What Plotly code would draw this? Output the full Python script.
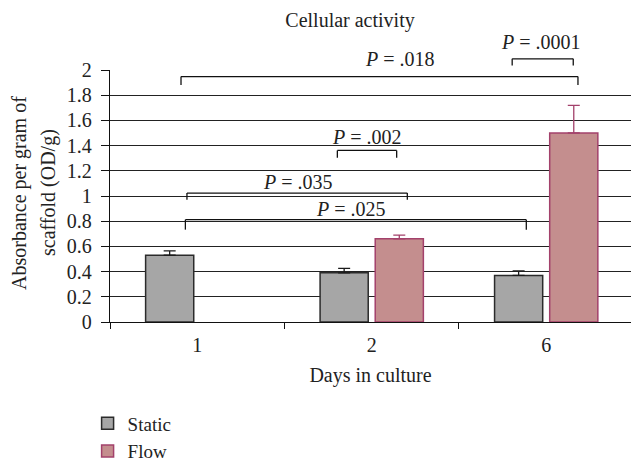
import plotly.graph_objects as go

# Absorbance per gram of scaffold by day in culture
days = ["1", "2", "6"]
static_mean = [0.53, 0.39, 0.37]
static_err = [0.035, 0.035, 0.035]
flow_mean = [None, 0.66, 1.50]
flow_err = [0, 0.03, 0.22]

y_ticks = [0, 0.2, 0.4, 0.6, 0.8, 1, 1.2, 1.4, 1.6, 1.8, 2]
y_labels = ["0", "0.2", "0.4", "0.6", "0.8", "1", "1.2", "1.4", "1.6", "1.8", "2"]
Y_MAX = 2.0

# Significance brackets (x in category index units, y in data units)
sig_labels = [".018", ".0001", ".002", ".035", ".025"]
sig_x0 = [-0.093, 1.805, 0.803, -0.059, -0.068]
sig_x1 = [2.182, 2.155, 1.143, 1.204, 1.886]
sig_y = [1.948, 2.089, 1.362, 1.023, 0.812]
sig_drop = [0.067, 0.053, 0.058, 0.053, 0.079]
sig_text_x = [1.162, 1.973, 0.973, 0.576, 0.881]
sig_text_y = [2.087, 2.220, 1.467, 1.110, 0.899]

# Two-line vertical axis title
y_title_lines = ["Absorbance per gram of", "scaffold (OD/g)"]

FONT = "Liberation Serif"
FS = 20
TXT = "#222222"
STATIC_FILL = "#a6a6a6"
STATIC_EDGE = "#2b2b2b"
FLOW_FILL = "#c48e8e"
FLOW_EDGE = "#a3416b"

L, R, T, B = 110, 0, 70, 140
W, H = 631, 462
plot_w = W - L - R
plot_h = H - T - B

fig = go.Figure()
fig.add_trace(go.Bar(
    name="Static", x=days, y=static_mean,
    marker=dict(color=STATIC_FILL, line=dict(color=STATIC_EDGE, width=1.5)),
    error_y=dict(type="data", symmetric=False, array=static_err,
                 arrayminus=[0] * len(static_err),
                 color="#1a1a1a", thickness=1.3, width=6),
))
fig.add_trace(go.Bar(
    name="Flow", x=days, y=flow_mean,
    marker=dict(color=FLOW_FILL, line=dict(color=FLOW_EDGE, width=1.5)),
    error_y=dict(type="data", symmetric=False, array=flow_err,
                 arrayminus=[0] * len(flow_err),
                 color=FLOW_EDGE, thickness=1.3, width=6),
))

shapes = []
annotations = []
for lab, x0, x1, y, d, tx, ty in zip(sig_labels, sig_x0, sig_x1, sig_y,
                                     sig_drop, sig_text_x, sig_text_y):
    line = dict(color="#111111", width=1.3)
    for (ax0, ay0, ax1, ay1) in [(x0, y - d, x0, y), (x0, y, x1, y), (x1, y, x1, y - d)]:
        shapes.append(dict(type="line", xref="x", yref="paper",
                           x0=ax0, x1=ax1, y0=ay0 / Y_MAX, y1=ay1 / Y_MAX,
                           line=line, layer="above"))
    annotations.append(dict(
        xref="x", yref="paper", x=tx, y=ty / Y_MAX,
        text="<i>P</i> = " + lab, showarrow=False,
        xanchor="center", yanchor="middle",
        font=dict(family=FONT, size=FS, color=TXT),
    ))

# vertical axis title, one annotation per line (pixel centres from the left edge)
title_mid_y = (H - B - 193) / plot_h
for text, px in zip(y_title_lines, [19, 48]):
    annotations.append(dict(
        xref="paper", yref="paper", x=(px - L) / plot_w, y=title_mid_y,
        text=text, textangle=-90, showarrow=False,
        xanchor="center", yanchor="middle",
        font=dict(family=FONT, size=FS, color=TXT),
    ))

fig.update_layout(
    width=W, height=H,
    margin=dict(l=L, r=R, t=T, b=B, autoexpand=False),
    paper_bgcolor="white", plot_bgcolor="white",
    font=dict(family=FONT, size=FS, color=TXT),
    title=dict(text="Cellular activity", xref="container", yref="container",
               x=350 / W, y=1 - 20 / H, xanchor="center", yanchor="middle",
               font=dict(family=FONT, size=FS, color=TXT)),
    barmode="group", bargap=0.368, bargroupgap=0.127,
    shapes=shapes, annotations=annotations,
    legend=dict(x=-0.043, y=-0.327, xanchor="left", yanchor="top",
                font=dict(family=FONT, size=19, color=TXT),
                bgcolor="rgba(0,0,0,0)", traceorder="normal"),
    showlegend=True,
)
fig.update_xaxes(
    type="category", range=[-0.5, 2.486], automargin=False,
    showline=True, linecolor="#111111", linewidth=1.3,
    ticks="outside", tickson="boundaries", ticklen=6, tickcolor="#111111",
    ticklabelstandoff=5,
    showgrid=False, zeroline=False,
    title=dict(text="Days in culture", standoff=12,
               font=dict(family=FONT, size=FS, color=TXT)),
)
fig.update_yaxes(
    range=[0, Y_MAX], tickvals=y_ticks, ticktext=y_labels, automargin=False,
    showline=True, linecolor="#111111", linewidth=1.3,
    ticks="outside", ticklen=8, tickcolor="#111111",
    ticklabelstandoff=5,
    showgrid=True, gridcolor="#222222", gridwidth=1,
    zeroline=False,
)

fig.write_html("out.html")
